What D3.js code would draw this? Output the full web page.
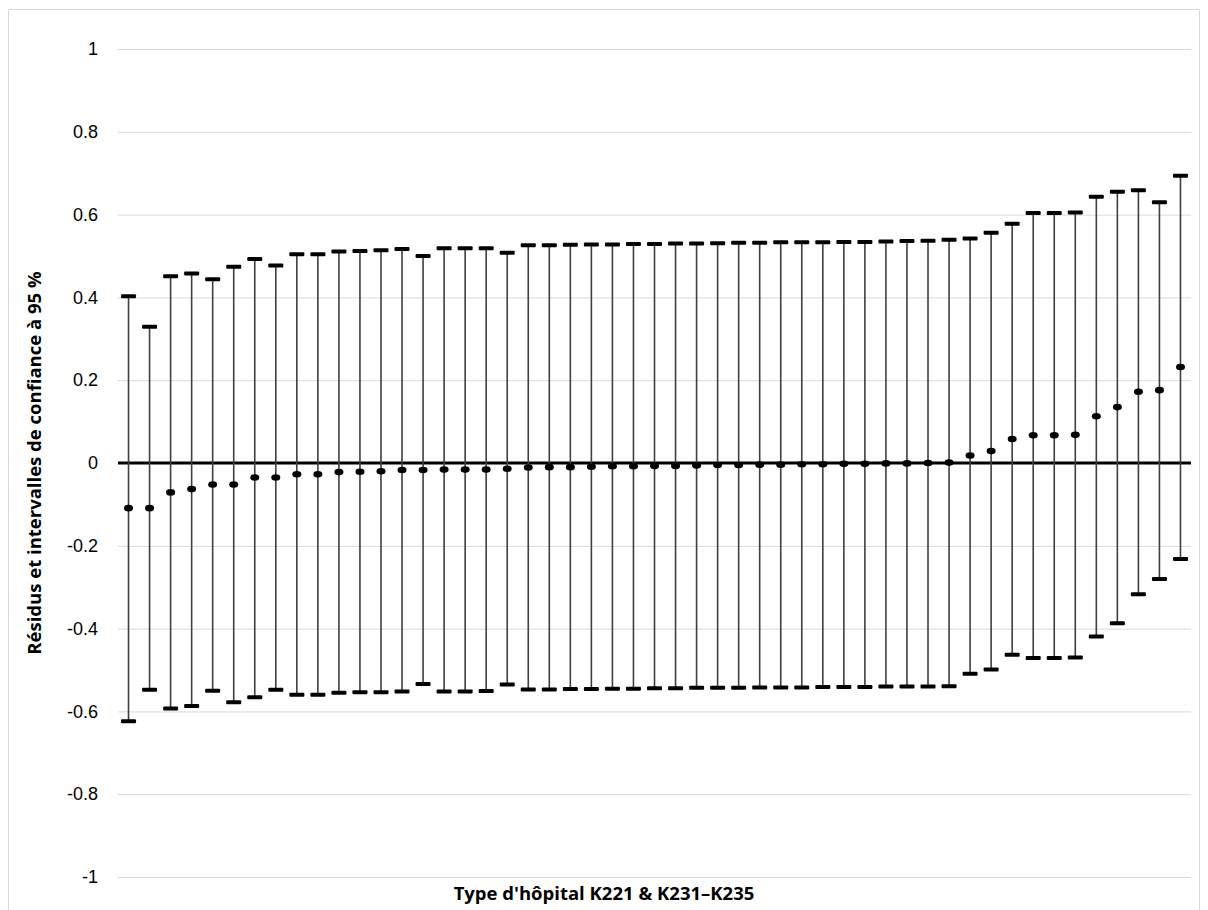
<!DOCTYPE html>
<html>
<head>
<meta charset="utf-8">
<script src="https://cdn.jsdelivr.net/npm/d3@7"></script>
<style>
  html, body { margin: 0; padding: 0; background: #fff; }
  svg { display: block; font-family: "Open Sans", "Noto Sans", sans-serif; }
</style>
</head>
<body>
<svg id="chart" width="1208" height="910"></svg>
<script>
// Residuals per hospital, sorted ascending, with their 95 % confidence bounds
const residuals = [-0.109,-0.109,-0.071,-0.063,-0.052,-0.052,-0.035,-0.035,-0.027,-0.027,
  -0.022,-0.021,-0.020,-0.017,-0.017,-0.016,-0.016,-0.016,-0.014,-0.011,
  -0.010,-0.010,-0.009,-0.008,-0.008,-0.007,-0.007,-0.006,-0.005,-0.005,
  -0.004,-0.004,-0.003,-0.003,-0.002,-0.002,-0.001,-0.001,0.000,0.001,
  0.018,0.029,0.058,0.067,0.067,0.068,0.113,0.135,0.172,0.176,0.232];

const upperCI = [0.403,0.329,0.451,0.458,0.444,0.474,0.493,0.477,0.504,0.504,
  0.511,0.512,0.514,0.517,0.500,0.519,0.519,0.519,0.508,0.526,
  0.526,0.527,0.528,0.528,0.529,0.529,0.530,0.530,0.531,0.532,
  0.532,0.533,0.533,0.533,0.534,0.534,0.535,0.536,0.537,0.539,
  0.542,0.556,0.578,0.604,0.604,0.605,0.643,0.655,0.659,0.630,0.694];

const lowerCI = [-0.624,-0.548,-0.593,-0.587,-0.550,-0.578,-0.566,-0.548,-0.560,-0.560,
  -0.555,-0.554,-0.554,-0.552,-0.534,-0.552,-0.552,-0.551,-0.535,-0.547,
  -0.547,-0.546,-0.546,-0.545,-0.545,-0.544,-0.544,-0.543,-0.543,-0.543,
  -0.542,-0.542,-0.542,-0.541,-0.541,-0.541,-0.540,-0.540,-0.540,-0.539,
  -0.509,-0.499,-0.463,-0.471,-0.471,-0.470,-0.419,-0.387,-0.317,-0.280,-0.232];

const yTicks = [-1,-0.8,-0.6,-0.4,-0.2,0,0.2,0.4,0.6,0.8,1];
const xTitle = "Type d'hôpital K221 & K231–K235";
const yTitle = "Résidus et intervalles de confiance à 95 %";

const hospitals = residuals.map((_, i) => i);
const rows = hospitals.map(i => ({ id: i, r: residuals[i], lo: lowerCI[i], hi: upperCI[i] }));

const svg = d3.select("#chart");
const W = 1208, H = 910;
const plot = { left: 118, right: 1191, top: 49, bottom: 877 };

// chart frame
svg.append("rect")
  .attr("x", 8.5).attr("y", 9.5)
  .attr("width", W - 17).attr("height", H + 10)
  .attr("fill", "#fff").attr("stroke", "#d9d9d9").attr("stroke-width", 1);

const x = d3.scaleBand().domain(hospitals).range([plot.left, plot.right]);
const y = d3.scaleLinear().domain([-1, 1]).range([plot.bottom, plot.top]);

// plain hyphen for negatives, no trailing zeros
const fmtTick = d => String(+d.toFixed(1));

// y axis with horizontal gridlines
const yAxis = svg.append("g")
  .attr("transform", `translate(${plot.left},0)`)
  .call(d3.axisLeft(y)
    .tickValues(yTicks)
    .tickSize(-(plot.right - plot.left))
    .tickPadding(20)
    .tickFormat(fmtTick));
yAxis.select(".domain").remove();
yAxis.selectAll(".tick line").attr("stroke", "#d9d9d9").attr("stroke-width", 1);
yAxis.selectAll(".tick text")
  .attr("fill", "#000").style("font-size", "18px");

// zero line
svg.append("line")
  .attr("x1", plot.left).attr("x2", plot.right)
  .attr("y1", y(0)).attr("y2", y(0))
  .attr("stroke", "#000").attr("stroke-width", 3);

const cx = d => x(d.id) + x.bandwidth() / 2;
const g = svg.append("g");

// confidence interval whiskers
g.selectAll("line.ci").data(rows).join("line")
  .attr("class", "ci")
  .attr("x1", cx).attr("x2", cx)
  .attr("y1", d => y(d.hi)).attr("y2", d => y(d.lo))
  .attr("stroke", "#3f3f3f").attr("stroke-width", 1.6);

// caps
const capW = 15, capH = 4;
["hi", "lo"].forEach(k => {
  g.selectAll(`rect.cap-${k}`).data(rows).join("rect")
    .attr("class", `cap-${k}`)
    .attr("x", d => cx(d) - capW / 2)
    .attr("y", d => y(d[k]) - capH / 2)
    .attr("width", capW).attr("height", capH)
    .attr("rx", 1)
    .attr("fill", "#000");
});

// residual markers
g.selectAll("ellipse.res").data(rows).join("ellipse")
  .attr("class", "res")
  .attr("cx", cx).attr("cy", d => y(d.r))
  .attr("rx", 4.5).attr("ry", 3.3)
  .attr("fill", "#000");

// axis titles
svg.append("text")
  .attr("x", W / 2).attr("y", 900)
  .attr("text-anchor", "middle")
  .style("font-size", "18.5px").style("font-weight", "bold")
  .text(xTitle);

svg.append("text")
  .attr("transform", `translate(41,${(plot.top + plot.bottom) / 2}) rotate(-90)`)
  .attr("text-anchor", "middle")
  .style("font-size", "18.5px").style("font-weight", "bold")
  .text(yTitle);
</script>
</body>
</html>
